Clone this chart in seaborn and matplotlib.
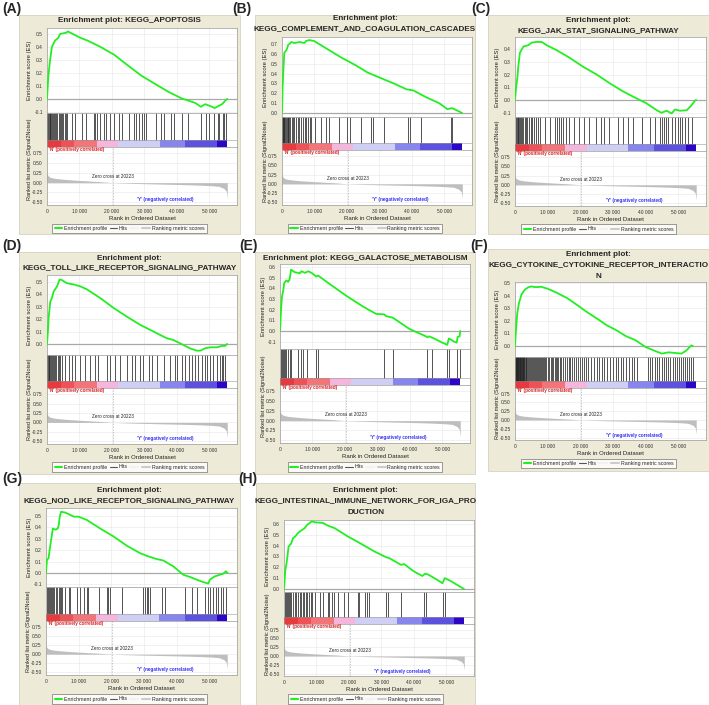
import matplotlib
matplotlib.use("Agg")
import matplotlib.pyplot as plt
from matplotlib.patches import Rectangle
from matplotlib.lines import Line2D
import seaborn as sns

# ---- data (x positions are ranks in thousands) ----
titles = [
    ["Enrichment plot: KEGG_APOPTOSIS"],
    ["Enrichment plot:", "KEGG_COMPLEMENT_AND_COAGULATION_CASCADES"],
    ["Enrichment plot:", "KEGG_JAK_STAT_SIGNALING_PATHWAY"],
    ["Enrichment plot:", "KEGG_TOLL_LIKE_RECEPTOR_SIGNALING_PATHWAY"],
    ["Enrichment plot: KEGG_GALACTOSE_METABOLISM"],
    ["Enrichment plot:", "KEGG_CYTOKINE_CYTOKINE_RECEPTOR_INTERACTIO", "N"],
    ["Enrichment plot:", "KEGG_NOD_LIKE_RECEPTOR_SIGNALING_PATHWAY"],
    ["Enrichment plot:", "KEGG_INTESTINAL_IMMUNE_NETWORK_FOR_IGA_PRO", "DUCTION"],
]
tags = ["(A)", "(B)", "(C)", "(D)", "(E)", "(F)", "(G)", "(H)"]

a_x = [0, 0.4, 0.9, 1.5, 2.5, 3.5, 4.0, 6.0, 6.4, 10.3, 12.4, 16.5, 20.7, 24.8, 29.0, 33.0, 37.3,
       41.4, 45.6, 47.4, 48.7, 50.8, 51.6, 53.9, 55.0, 55.5]
a_es = [0, 0.17, 0.29, 0.40, 0.45, 0.47, 0.50, 0.51, 0.52, 0.47, 0.45, 0.40, 0.34, 0.26, 0.18, 0.12, 0.056,
        0.005, -0.03, -0.06, -0.04, -0.06, -0.07, -0.04, -0.01, 0.0]
a_hits = [0.1, 0.3, 0.5, 0.8, 1.0, 1.3, 1.6, 1.9, 2.2, 2.5, 2.9, 3.2, 3.6, 3.9, 4.3, 4.6, 5.0, 5.4, 5.8, 6.1,
          7.6, 8.7, 10.7, 12.1, 14.4, 14.9, 15.4, 16.4, 17.7, 18.3, 19.3, 20.6, 22.1, 23.1, 25.2, 26.8,
          27.3, 28.3, 29.3, 29.9, 30.4, 33.5, 35.0, 36.1, 38.1, 39.2, 41.7, 43.3, 47.4, 49.0, 50.0, 51.5,
          52.6, 53.1, 54.1, 54.6, 55.2]

b_x = [0, 0.2, 0.4, 0.7, 1.4, 1.9, 2.9, 3.9, 5.4, 6.9, 7.4, 8.4, 9.9, 11.4, 14.4, 18.4, 22.4, 26.4, 30.4,
       34.4, 38.4, 40.4, 44.4, 48.4, 50.9, 52.4, 55.5]
b_es = [0, 0.27, 0.42, 0.61, 0.64, 0.69, 0.72, 0.71, 0.72, 0.71, 0.73, 0.74, 0.73, 0.70, 0.64, 0.56, 0.49,
        0.41, 0.355, 0.30, 0.24, 0.23, 0.16, 0.10, 0.04, 0.05, 0.0]
b_hits = [0.1, 0.2, 0.3, 0.5, 0.7, 0.9, 1.1, 1.4, 1.7, 2.0, 2.3, 2.6, 3.0, 3.4, 3.8, 4.3, 4.8, 5.3, 5.9,
          6.5, 7.0, 7.5, 8.0, 8.5, 9.0, 10.2, 11.9, 13.4, 14.4, 17.4, 19.9, 20.9, 24.2, 27.4, 28.1, 31.4,
          38.9, 39.4, 42.7, 51.9, 52.4]

c_x = [0, 0.3, 0.7, 1.0, 1.5, 2.6, 4.1, 5.1, 6.6, 8.2, 9.7, 12.8, 16.8, 20.9, 25.0, 29.1, 33.2, 37.2,
       40.3, 43.4, 44.9, 46.4, 48.0, 49.0, 50.5, 52.6, 54.1, 55.1, 55.5]
c_es = [0, 0.09, 0.17, 0.26, 0.37, 0.42, 0.43, 0.45, 0.455, 0.455, 0.43, 0.39, 0.33, 0.26, 0.20, 0.13,
        0.066, 0.013, -0.026, -0.08, -0.10, -0.084, -0.105, -0.074, -0.084, -0.08, -0.04, -0.005, 0.0]
c_hits = [0.3, 0.5, 0.8, 1.0, 1.3, 1.6, 1.9, 2.2, 2.6, 3.0, 3.4, 3.8, 4.3, 4.8, 5.3, 5.9, 6.5, 7.1, 7.7,
          9.2, 10.7, 12.2, 12.8, 13.5, 14.1, 14.8, 15.5, 16.5, 18.0, 19.6, 21.1, 22.8, 24.7, 26.2,
          27.2, 28.7, 31.6, 33.2, 34.7, 36.2, 38.8, 41.3, 42.8, 44.4, 45.0, 45.6, 46.3, 46.9, 48.0, 49.0,
          50.0, 50.6, 51.3, 52.0, 53.1, 54.1]

d_x = [0, 0.3, 0.5, 1.0, 1.5, 2.0, 3.1, 3.9, 4.6, 6.1, 8.2, 10.2, 12.3, 16.4, 20.5, 24.6, 28.7, 32.8,
       34.8, 36.9, 38.9, 41.0, 44.0, 46.1, 47.2, 48.7, 50.2, 52.3, 53.8, 54.8, 55.5]
d_es = [0, 0.11, 0.21, 0.34, 0.37, 0.42, 0.465, 0.52, 0.515, 0.49, 0.48, 0.465, 0.44, 0.37, 0.29, 0.22,
        0.154, 0.10, 0.073, 0.046, 0.032, 0.005, -0.035, -0.054, -0.054, -0.035, -0.027, -0.027,
        -0.016, -0.016, 0.0]
d_hits = [0.1, 0.3, 0.5, 0.7, 0.9, 1.2, 1.5, 1.8, 2.1, 2.5, 2.9, 3.3, 3.7, 4.1, 4.6, 5.6, 6.7, 7.7, 8.7,
          10.2, 11.8, 13.3, 14.9, 15.6, 18.4, 19.5, 21.0, 22.5, 24.6, 26.1, 27.2, 28.7, 29.7, 31.3,
          32.3, 33.8, 35.9, 37.9, 39.5, 40.0, 41.5, 42.6, 43.6, 44.6, 45.6, 46.6, 47.7, 48.7, 49.2,
          50.2, 51.2, 52.3, 53.3, 53.8, 54.3, 54.8]

e_x = [0, 0.3, 0.6, 1.0, 1.3, 2.0, 2.5, 2.9, 3.1, 3.4, 4.6, 5.6, 6.1, 6.6, 7.7, 8.7, 9.7, 11.2, 11.7,
       15.3, 20.4, 25.5, 29.6, 32.1, 32.6, 34.7, 39.8, 44.9, 45.4, 45.9, 47.4, 50.0, 51.5, 52.0, 53.6,
       54.4, 54.7, 55.3, 55.5]
e_es = [0, 0.19, 0.32, 0.38, 0.45, 0.475, 0.46, 0.48, 0.51, 0.575, 0.55, 0.545, 0.54, 0.56, 0.545, 0.56,
        0.545, 0.51, 0.52, 0.44, 0.33, 0.23, 0.16, 0.156, 0.14, 0.125, 0.02, -0.05, -0.06, -0.05, -0.07,
        -0.11, -0.13, -0.07, -0.10, -0.11, -0.056, -0.05, 0.0]
e_hits = [0.2, 0.5, 0.8, 1.2, 1.5, 2.0, 2.5, 3.0, 3.4, 5.6, 6.6, 7.1, 8.4, 11.2, 11.7, 32.1, 34.7, 45.4,
          46.9, 51.5, 52.0, 54.6, 55.3]

f_x = [0, 0.3, 0.7, 1.2, 2.0, 3.0, 4.0, 5.0, 6.0, 7.0, 8.0, 10.0, 13.0, 16.0, 19.0, 22.0, 25.0, 28.0,
       31.0, 34.0, 37.0, 40.0, 43.0, 45.0, 47.0, 49.0, 51.0, 52.5, 53.5, 54.0, 54.5]
f_es = [0, 0.126, 0.26, 0.34, 0.41, 0.447, 0.465, 0.473, 0.468, 0.468, 0.47, 0.455, 0.42, 0.38, 0.326,
        0.27, 0.22, 0.166, 0.126, 0.078, 0.045, -0.008, -0.04, -0.06, -0.05, -0.055, -0.06, -0.035,
        -0.008, 0.005, 0.0]
f_hits = [0.1, 0.2, 0.3, 0.4, 0.5, 0.6, 0.7, 0.8, 0.9, 1.0, 1.1, 1.2, 1.4, 1.5, 1.6, 1.8, 1.9, 2.0, 2.2,
          2.3, 2.5, 2.6, 2.8, 2.9, 3.1, 3.3, 3.5, 3.8, 4.0, 4.3, 4.5, 4.9, 5.2, 5.4, 5.8, 6.0, 6.3, 6.7,
          7.0, 7.2, 7.6, 8.0, 8.3, 8.5, 8.9, 9.3, 9.6, 10.0, 10.4, 10.9, 11.2, 11.6, 12.1, 12.5, 12.8,
          13.3, 13.7, 14.2, 14.6, 15.3, 15.9, 16.4, 16.8, 17.5, 18.1, 18.6, 19.3, 19.9, 20.6, 21.2, 21.8,
          22.5, 23.4, 24.1, 25.0, 25.8, 26.5, 27.4, 28.3, 29.0, 29.9, 30.8, 31.6, 32.5, 33.2, 34.1,
          35.0, 35.7, 36.6, 37.4, 40.7, 41.3, 42.0, 42.8, 43.4, 44.1, 44.9, 45.5, 46.2, 46.8, 47.5,
          48.3, 48.9, 49.6, 50.2, 50.9, 51.5, 52.2, 52.8, 53.4, 54.0, 54.6]

g_x = [0, 0.3, 0.8, 1.1, 1.5, 2.1, 2.9, 3.6, 3.9, 4.2, 4.6, 5.9, 7.4, 8.5, 10.0, 12.5, 16.6, 20.7, 24.7,
       28.8, 30.9, 33.9, 35.9, 39.0, 42.0, 44.1, 46.1, 48.2, 49.7, 50.2, 51.7, 53.3, 54.3, 55.1, 55.6]
g_es = [0, 0.116, 0.13, 0.20, 0.276, 0.39, 0.38, 0.39, 0.42, 0.49, 0.537, 0.53, 0.51, 0.494, 0.494,
        0.465, 0.39, 0.32, 0.24, 0.174, 0.15, 0.122, 0.11, 0.058, -0.015, -0.035, -0.058, -0.08,
        -0.093, -0.058, -0.03, -0.015, -0.006, 0.015, 0.0]
g_hits = [0.3, 0.6, 0.9, 1.2, 1.5, 1.8, 2.1, 2.5, 3.0, 3.5, 3.9, 4.2, 4.6, 4.9, 5.9, 6.9, 7.4, 9.5, 10.5,
          11.5, 12.5, 13.0, 16.1, 18.6, 19.1, 19.6, 23.2, 29.6, 30.3, 30.8, 31.3, 31.8, 35.4, 36.4,
          42.6, 44.6, 46.1, 48.7, 49.7, 50.2, 51.2, 52.2, 52.7, 53.7, 54.3, 55.0]

h_x = [0, 0.4, 0.7, 1.0, 1.4, 2.2, 2.8, 3.5, 4.3, 5.3, 6.3, 7.2, 7.9, 8.6, 9.4, 12.0, 13.5, 15.5, 19.6,
       23.7, 27.8, 31.4, 32.4, 36.0, 37.0, 40.1, 42.6, 43.4, 44.2, 47.2, 48.8, 49.5, 51.3, 55.4]
h_es = [0, 0.176, 0.22, 0.285, 0.39, 0.42, 0.47, 0.486, 0.517, 0.54, 0.56, 0.594, 0.61, 0.625, 0.616,
        0.61, 0.585, 0.563, 0.486, 0.418, 0.347, 0.294, 0.285, 0.223, 0.23, 0.16, 0.12, 0.14, 0.136,
        0.084, 0.053, 0.10, 0.074, 0.0]
h_hits = [0.4, 0.7, 1.0, 1.2, 1.4, 1.7, 2.2, 2.8, 3.3, 3.8, 4.3, 4.8, 5.3, 5.8, 6.3, 6.8, 7.2, 7.6, 8.2,
          8.6, 9.4, 11.0, 12.0, 13.5, 14.0, 14.7, 15.3, 16.6, 18.6, 19.6, 22.9, 23.2, 24.9, 25.7, 26.2,
          31.4, 31.9, 36.0, 43.1, 43.6, 49.0, 49.5]

panel_x = [a_x, b_x, c_x, d_x, e_x, f_x, g_x, h_x]
panel_es = [a_es, b_es, c_es, d_es, e_es, f_es, g_es, h_es]
panel_hits = [a_hits, b_hits, c_hits, d_hits, e_hits, f_hits, g_hits, h_hits]

# ranked list metric (shared dataset)
rank_x = [0, 0.1, 0.3, 0.6, 1.0, 1.5, 2.5, 4, 6, 8, 10, 13, 16, 20.223, 24, 28, 32, 36, 40, 44, 48, 51,
          53, 54.5, 55.2, 55.5]
rank_metric = [0.27, 0.22, 0.18, 0.155, 0.14, 0.125, 0.11, 0.095, 0.08, 0.068, 0.057, 0.042, 0.028, 0.0,
               -0.012, -0.022, -0.03, -0.038, -0.046, -0.055, -0.067, -0.08, -0.095, -0.15, -0.22, -0.40]
zero_cross = 20.223
band_edges = [0, 4.2, 8.3, 15.4, 22.0, 34.7, 42.5, 52.3, 55.5]
band_colors = ["#E63A3E", "#EE5257", "#F37479", "#F5B6DE", "#CFCFF6", "#8686EE", "#5D52E0", "#2C06C6"]

# ---- layout in pixels: box, axes x-range, ES top/bottom, hits bottom, rank bottom ----
W, H = 709, 705
layout = [
    dict(tag=(2, 2), box=(19, 15, 240, 234), axx=(47, 237), es=(28, 113), hb=147, rb=205, ty=[20], ly=228.5,
         ylim=(-0.108, 0.546), yt=[-0.1, 0.0, 0.1, 0.2, 0.3, 0.4, 0.5]),
    dict(tag=(232, 2), box=(255, 15, 475, 234), axx=(282, 472), es=(37, 117), hb=150, rb=205, ty=[18, 29], ly=228.5,
         ylim=(-0.04, 0.771), yt=[0.0, 0.1, 0.2, 0.3, 0.4, 0.5, 0.6, 0.7]),
    dict(tag=(471, 2), box=(488, 15, 709, 234), axx=(515, 706), es=(37, 117), hb=151, rb=206, ty=[20, 31], ly=229,
         ylim=(-0.133, 0.494), yt=[-0.1, 0.0, 0.1, 0.2, 0.3, 0.4]),
    dict(tag=(2, 239), box=(19, 252, 240, 474), axx=(47, 237), es=(275, 355), hb=388, rb=444, ty=[258, 268], ly=467,
         ylim=(-0.089, 0.556), yt=[0.0, 0.1, 0.2, 0.3, 0.4, 0.5]),
    dict(tag=(239, 239), box=(255, 252, 475, 474), axx=(280, 470), es=(264, 349), hb=385, rb=443, ty=[258], ly=467,
         ylim=(-0.169, 0.628), yt=[-0.1, 0.0, 0.1, 0.2, 0.3, 0.4, 0.5, 0.6]),
    dict(tag=(470, 239), box=(488, 249, 709, 471), axx=(515, 706), es=(282, 357), hb=388, rb=440, ty=[254, 265, 276], ly=463.5,
         ylim=(-0.087, 0.508), yt=[0.0, 0.1, 0.2, 0.3, 0.4, 0.5]),
    dict(tag=(2, 472), box=(19, 483, 240, 705), axx=(46, 237), es=(508, 587), hb=621, rb=675, ty=[491, 501], ly=699,
         ylim=(-0.123, 0.57), yt=[-0.1, 0.0, 0.1, 0.2, 0.3, 0.4, 0.5]),
    dict(tag=(238, 472), box=(256, 483, 475, 705), axx=(284, 474), es=(520, 592), hb=624, rb=676, ty=[491, 501, 512], ly=699,
         ylim=(-0.028, 0.637), yt=[0.0, 0.1, 0.2, 0.3, 0.4, 0.5, 0.6]),
]

BEIGE = "#EDEAD8"
GREEN = "#22EE22"
XMAX = 58.5

sns.set_style("white")
plt.rcParams["font.family"] = ["Liberation Sans", "DejaVu Sans"]

fig = plt.figure(figsize=(W / 100, H / 100), dpi=100)


def px_axes(x0, y0, x1, y1):
    return fig.add_axes([x0 / W, 1 - y1 / H, (x1 - x0) / W, (y1 - y0) / H])


def style_axes(ax):
    for s in ax.spines.values():
        s.set_color("#9A9A9A")
        s.set_linewidth(0.5)
    ax.tick_params(labelsize=3.5, length=1.5, width=0.4, pad=1.5, colors="#333333")
    ax.set_xlim(0, XMAX)


xticks = [0, 10, 20, 30, 40, 50]
xticklabels = ["0", "10 000", "20 000", "30 000", "40 000", "50 000"]

for i, lay in enumerate(layout):
    x0, y0, x1, y1 = lay["box"]
    fig.patches.append(Rectangle((x0 / W, 1 - y1 / H), (x1 - x0) / W, (y1 - y0) / H,
                                 transform=fig.transFigure, facecolor=BEIGE, edgecolor="#CFCBB8",
                                 lw=0.5, zorder=-5))
    fig.text(lay["tag"][0] / W, 1 - lay["tag"][1] / H, tags[i], fontsize=10, fontweight="bold",
             ha="left", va="top")
    cx = (x0 + x1) / 2
    for line, ty in zip(titles[i], lay["ty"]):
        fig.text(cx / W, 1 - ty / H, line, fontsize=5.85, fontweight="bold", ha="center", va="center")

    ax_l, ax_r = lay["axx"]
    es_t, es_b = lay["es"]

    # enrichment score
    ax = px_axes(ax_l, es_t, ax_r, es_b)
    style_axes(ax)
    ax.set_facecolor("white")
    ax.grid(True, color="#E6E6E6", lw=0.4)
    ax.set_axisbelow(True)
    ax.axhline(0, color="#A8A8A8", lw=0.9, zorder=1)
    sns.lineplot(x=panel_x[i], y=panel_es[i], ax=ax, color=GREEN, lw=1.3, legend=False, zorder=3)
    ax.set_ylim(*lay["ylim"])
    ax.set_yticks(lay["yt"])
    ax.set_yticklabels([f"{v:.1f}" for v in lay["yt"]])
    ax.set_xticks(xticks)
    ax.set_xticklabels([])
    ax.tick_params(axis="x", length=0)
    ax.set_xlabel("")
    ax.set_ylabel("")
    fig.text((ax_l - 17) / W, 1 - (es_t + es_b) / 2 / H, "Enrichment score (ES)", rotation=90,
             fontsize=4.2, ha="center", va="center", color="#222222")

    # hits + colour bar
    hb = lay["hb"]
    axh = px_axes(ax_l, es_b, ax_r, hb)
    style_axes(axh)
    axh.set_ylim(0, 1)
    cb = 7 / (hb - es_b)
    axh.vlines(panel_hits[i], cb, 1, color="#262626", lw=0.55)
    for k in range(len(band_colors)):
        axh.axvspan(band_edges[k], band_edges[k + 1], ymin=0, ymax=cb, color=band_colors[k], lw=0)
    axh.axhline(cb, color="#9A9A9A", lw=0.4)
    axh.set_xticks([])
    axh.set_yticks([])

    # ranked list metric
    rb = lay["rb"]
    axr = px_axes(ax_l, hb, ax_r, rb)
    style_axes(axr)
    axr.grid(True, color="#E6E6E6", lw=0.4)
    axr.set_axisbelow(True)
    axr.fill_between(rank_x, rank_metric, 0, color="#BEBEBE", lw=0)
    axr.axvline(zero_cross, color="#B0B0B0", lw=0.5, ls=(0, (2, 2)))
    axr.set_ylim(-0.57, 0.91)
    axr.set_yticks([-0.5, -0.25, 0, 0.25, 0.5, 0.75])
    axr.set_yticklabels(["-0.50", "-0.25", "0.00", "0.25", "0.50", "0.75"])
    axr.set_xticks(xticks)
    axr.set_xticklabels(xticklabels)
    axr.set_xlabel("Rank in Ordered Dataset", fontsize=4.3, labelpad=1.5, color="#222222")
    axr.text(0.008, 0.995, "'N' (positively correlated)", transform=axr.transAxes, fontsize=3.3,
             color="#E02020", fontweight="bold", ha="left", va="top")
    axr.text(zero_cross, 0.15, "Zero cross at 20223", fontsize=3.3, ha="center", va="center", color="#222222")
    axr.text(36.5, -0.43, "'Y' (negatively correlated)", fontsize=3.3, color="#3030F0", fontweight="bold",
             ha="center", va="center")
    fig.text((ax_l - 17) / W, 1 - (es_b + rb) / 2 / H, "Ranked list metric (Signal2Noise)", rotation=90,
             fontsize=4.0, ha="center", va="center", color="#222222")

    handles = [Line2D([], [], color=GREEN, lw=1.5), Line2D([], [], color="#555555", lw=0.8),
               Line2D([], [], color="#F2F2F2", lw=1.5), Line2D([], [], color="#CCCCCC", lw=1.5)]
    labels = ["Enrichment profile", "Hits", "", "Ranking metric scores"]
    leg = fig.legend(handles, labels, loc="center", bbox_to_anchor=(cx / W, 1 - lay["ly"] / H), ncol=4,
                     fontsize=3.8, frameon=True, fancybox=False, edgecolor="#555555", handlelength=1.5,
                     columnspacing=0.45, borderpad=0.4, handletextpad=0.3)
    leg.get_frame().set_linewidth(0.5)

fig.savefig("out.png", dpi=100)
